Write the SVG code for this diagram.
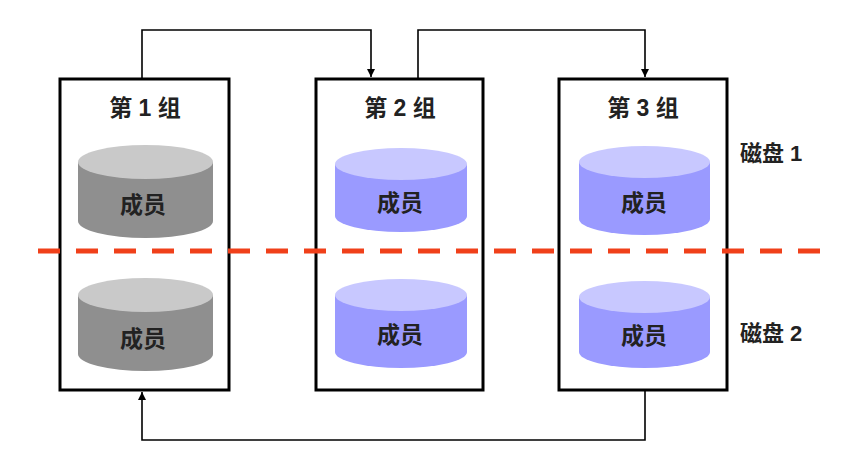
<svg xmlns="http://www.w3.org/2000/svg" width="864" height="469" viewBox="0 0 864 469">
<style>
.box{fill:#fff;stroke:#000;stroke-width:3}
.t{font-family:"Liberation Sans","Noto Sans CJK SC",sans-serif;font-weight:bold;font-size:23px;fill:#222;text-anchor:middle}
.lbl{font-family:"Liberation Sans","Noto Sans CJK SC",sans-serif;font-weight:bold;font-size:22px;fill:#222}
.gs{fill:#8f8f8f}.gt{fill:#c9c9c9}
.bs{fill:#9a9aff}.bt{fill:#c8c8ff}
.conn{fill:none;stroke:#000;stroke-width:1.6}
.dash{stroke:#f0401a;stroke-width:5;stroke-dasharray:22 16}
</style>
<defs>
<marker id="arr" viewBox="0 0 10 10" refX="10" refY="5" markerWidth="8" markerHeight="8" markerUnits="userSpaceOnUse" orient="auto">
<path d="M0,0 L10,5 L0,10 z" fill="#000"/>
</marker>
</defs>
<g id="connectors">
<path class="conn" d="M142,79 V30 H371 V77" marker-end="url(#arr)"/>
<path class="conn" d="M418,79 V30 H645 V77" marker-end="url(#arr)"/>
<path class="conn" d="M645,390 V440 H142 V392" marker-end="url(#arr)"/>
</g>
<g id="group1">
<rect class="box" x="60" y="79" width="169" height="311"/>
<text class="t" x="145" y="116">第 1 组</text>
<g id="g1m1">
<path class="gs" d="M78,162 V221 A67.5,17 0 0 0 213,221 V162 z"/>
<ellipse class="gt" cx="145.5" cy="162" rx="67.5" ry="17"/>
<text class="t" x="143" y="213">成员</text>
</g>
<g id="g1m2">
<path class="gs" d="M78,295 V354 A67.5,17 0 0 0 213,354 V295 z"/>
<ellipse class="gt" cx="145.5" cy="295" rx="67.5" ry="17"/>
<text class="t" x="143" y="347">成员</text>
</g>
</g>
<g id="group2">
<rect class="box" x="316" y="79" width="167" height="311"/>
<text class="t" x="400" y="116">第 2 组</text>
<g id="g2m1">
<path class="bs" d="M335,164 V216 A66,16 0 0 0 467,216 V164 z"/>
<ellipse class="bt" cx="401" cy="164" rx="66" ry="16"/>
<text class="t" x="400" y="211">成员</text>
</g>
<g id="g2m2">
<path class="bs" d="M335,295 V352 A66,16 0 0 0 467,352 V295 z"/>
<ellipse class="bt" cx="401" cy="295" rx="66" ry="16"/>
<text class="t" x="400" y="343">成员</text>
</g>
</g>
<g id="group3">
<rect class="box" x="559" y="79" width="168" height="311"/>
<text class="t" x="643" y="116">第 3 组</text>
<g id="g3m1">
<path class="bs" d="M579,162 V219 A65.5,16 0 0 0 710,219 V162 z"/>
<ellipse class="bt" cx="644.5" cy="162" rx="65.5" ry="16"/>
<text class="t" x="644" y="211">成员</text>
</g>
<g id="g3m2">
<path class="bs" d="M579,297 V352 A65.5,16 0 0 0 710,352 V297 z"/>
<ellipse class="bt" cx="644.5" cy="297" rx="65.5" ry="16"/>
<text class="t" x="644" y="344">成员</text>
</g>
</g>
<line id="divider" class="dash" x1="38" y1="251" x2="820" y2="251"/>
<text class="lbl" x="740" y="161">磁盘 1</text>
<text class="lbl" x="740" y="341">磁盘 2</text>
</svg>
